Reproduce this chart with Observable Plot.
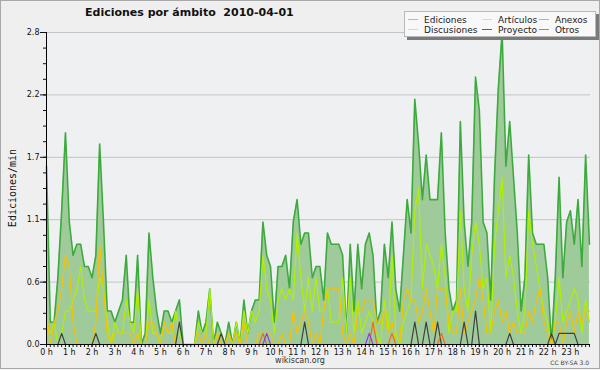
<!DOCTYPE html>
<html><head><meta charset="utf-8">
<script src="https://cdn.jsdelivr.net/npm/d3@7"></script>
<script src="https://cdn.jsdelivr.net/npm/@observablehq/plot@0.6"></script>
<style>
body{margin:0;background:#efefef;}
#wrap{position:relative;width:600px;height:370px;background:#efefef;font-family:"DejaVu Sans",sans-serif;overflow:hidden}
#chart{position:absolute;left:0;top:0}
.border{position:absolute;left:0;top:0;width:600px;height:369px;box-sizing:border-box;border:1px solid #a8a8a8;pointer-events:none}
.title{position:absolute;left:85px;top:6px;font-weight:bold;font-size:11px;color:#111;white-space:pre}
.ylab{position:absolute;left:12px;top:188px;transform:translate(-50%,-50%) rotate(-90deg);font-family:"DejaVu Sans Mono",monospace;font-size:10px;color:#111;white-space:nowrap}
.site{position:absolute;left:300px;top:356px;transform:translateX(-50%);font-size:8px;color:#333}
.cc{position:absolute;right:11px;top:359px;font-size:6px;color:#444}
.legend{position:absolute;left:404px;top:11px;width:190px;height:24px;background:#f8f8f8;border:1px solid #b8b8b8;box-shadow:3px 3px 0 #7a7a7a}
.li{position:absolute;font-size:9px;color:#222;white-space:nowrap;line-height:10px}
.li span{display:inline-block;width:10px;height:0;border-top:1px solid;vertical-align:middle;margin-right:6px;position:relative;top:-1px}
</style></head><body>
<div id="wrap">
<div id="chart"></div>
<div class="title">Ediciones por ámbito  2010-04-01</div>
<div class="ylab">Ediciones/min</div>
<div class="site">wikiscan.org</div>
<div class="cc">CC BY-SA 3.0</div>
<div class="legend" id="legend"></div>
<div class="border"></div>
</div>
<script>
// values per 10-minute slot (edits/min), 144 slots from 0:00 to 23:50
const ediciones = [1.6,0.2,0.2,0.6,1.2,1.9,1.1,0.8,0.9,0.9,0.7,0.7,0.6,0.8,1.8,1.1,0.3,0.3,0.2,0.3,0.4,0.8,0.2,0.2,
0.8,0,0.1,1.0,0.6,0.3,0.1,0.3,0.3,0.2,0.3,0.4,0,0,0,0,0.3,0.1,0.2,0.5,0,0.2,0.1,0,
0.2,0,0.2,0,0.4,0.1,0.3,0.4,0.4,1.1,0.8,0.7,0.2,0.7,0.7,0.8,0.5,1.1,1.3,0.9,1.0,1.0,0.6,0.7,
0.7,0.4,1.0,0.9,0.9,0.9,0.8,0.1,0.9,0.3,0.9,0.5,0.9,1.0,0.8,0.2,0.3,0.9,0.6,1.1,0.5,0.3,0.8,1.3,
1.0,2.2,1.8,1.3,1.7,1.3,1.3,1.3,1.9,1.0,0.5,0.3,0.4,2.0,1.1,0.7,1.1,2.4,2.1,1.1,1.0,0.4,1.5,2.3,
2.8,1.6,2.0,1.5,1.0,0.3,0.6,1.7,1.0,0.9,0.9,0.9,0.6,0,0.6,1.5,0.6,1.1,1.2,0.9,1.3,0.7,1.7,0.9];
const articulos = [0.2,0.1,0.2,0,0.1,0.3,0.3,0.4,0.5,0.7,0.4,0.3,0.3,0.3,0.6,0.5,0.2,0,0.2,0.1,0.1,0.4,0.2,0.1,
0.5,0,0,0.4,0.1,0.1,0,0.2,0.1,0.1,0.3,0.1,0,0,0,0,0.2,0.1,0.1,0.5,0,0.1,0.1,0,
0.1,0,0.2,0,0.3,0.1,0.3,0.2,0.3,0.8,0.5,0.4,0.1,0.4,0.5,0.4,0.5,0.4,1.0,0.6,0.3,0.6,0.3,0.6,
0.3,0.3,0.5,0.2,0.2,0.2,0.6,0.1,0.6,0.1,0.4,0.1,0.2,0.3,0.2,0.1,0,0.4,0.1,0.8,0.1,0,0.2,0.3,
0.4,1.2,1.4,0.5,0.9,0.8,0.7,0.5,0.9,0.6,0.1,0.3,0.3,1.2,0.5,0.3,0.8,1.1,0.9,0.5,0.6,0.1,0.9,1.2,
1.5,0.6,0.8,0.6,0.3,0.1,0.3,1.2,0.9,0.7,0.5,0.3,0.2,0,0.2,0.6,0.2,0.3,0.4,0.5,0.4,0.1,0.4,0.2];
const discusiones = [0.3,0,0.2,0.3,0.5,0.8,0.7,0.2,0,0,0,0,0,0.2,0.9,0.5,0.1,0,0.1,0.1,0.1,0.1,0.1,0,
0.1,0,0,0.2,0.2,0.1,0,0.2,0.1,0.2,0,0,0,0,0,0,0.1,0,0.1,0,0,0.1,0,0,
0.1,0,0.1,0,0.2,0,0,0,0.1,0.1,0.1,0.1,0,0,0.1,0,0,0.3,0.1,0.2,0.3,0.2,0,0.1,
0,0.3,0.5,0.5,0.5,0.5,0.1,0,0.1,0,0.3,0.3,0.4,0.4,0.4,0.2,0.2,0.3,0.1,0.2,0,0,0.4,0.5,
0.4,0.4,0.2,0.3,0.5,0.3,0.1,0.5,0.5,0.5,0.2,0.1,0.1,0.5,0.1,0.2,0.3,0.4,0.6,0.4,0.1,0.1,0.3,0.4,
0.2,0.3,0.1,0.2,0.1,0.1,0.1,0.3,0.2,0.4,0.5,0.2,0.1,0,0.2,0.2,0,0.2,0.3,0.1,0.3,0.2,0.3,0.3];
const proyecto = [0,0,0,0,0.1,0,0,0,0,0,0,0,0,0.1,0,0,0,0,0,0,0,0,0,0,
0,0,0,0,0,0,0,0,0,0,0,0.2,0,0,0,0,0,0,0,0,0,0,0.1,0,
0,0,0,0,0,0,0,0,0,0,0,0,0,0,0,0,0,0,0,0,0.2,0,0,0,
0,0,0,0,0,0,0,0,0,0,0,0,0,0,0,0,0,0,0,0,0,0,0,0,
0,0.2,0,0,0.2,0,0,0.2,0,0,0,0,0,0,0.2,0,0,0.3,0,0,0,0,0,0,
0,0,0.1,0,0,0,0,0,0,0,0,0,0,0.1,0,0.1,0.1,0.1,0.1,0.1,0,0,0,0];
const anexos = [0,0,0,0,0,0,0,0,0,0,0,0,0,0,0,0,0,0,0,0,0,0,0,0,
0,0,0,0,0,0,0,0,0,0,0,0,0,0,0,0,0,0,0,0,0,0,0,0,
0,0,0,0,0,0,0,0,0,0.1,0,0,0,0,0,0,0,0,0,0,0,0,0,0,
0,0,0,0,0,0,0,0,0,0,0,0,0,0,0.2,0,0,0,0,0.1,0,0,0,0,
0,0,0,0,0,0,0,0,0.1,0,0,0,0,0,0,0,0,0,0,0,0,0,0,0,
0,0,0,0,0,0,0,0,0,0,0,0,0,0,0,0,0,0,0,0,0,0,0,0];
const otros = [0,0,0,0,0,0,0,0,0,0,0,0,0,0,0,0,0,0,0,0,0,0,0,0,
0,0,0,0,0,0,0,0,0,0,0,0,0,0,0,0,0,0,0,0,0,0,0,0,
0,0,0,0,0,0,0,0,0,0,0.1,0,0,0,0,0,0,0,0,0,0,0,0,0,
0,0,0,0,0,0,0,0,0,0,0,0,0,0.1,0,0,0,0,0,0,0,0,0,0,
0,0,0,0,0,0,0,0,0,0,0,0,0,0,0,0,0,0,0,0,0,0,0,0,
0,0,0,0,0,0,0,0,0,0,0,0,0,0,0,0,0,0,0,0,0,0,0,0];

const hourTicks = [0,1,2,3,4,5,6,7,8,9,10,11,12,13,14,15,16,17,18,19,20,21,22,23];
const yMajor = [0, 0.56, 1.12, 1.68, 2.24, 2.8];
const seriesNames = ["Ediciones","Artículos","Anexos","Discusiones","Proyecto","Otros"];
const seriesColors = ["#3daa3d","#b0f000","#f26a1b","#f5c200","#404040","#8c3cf0"];
const legendColors = ["#8fd48f","#d2f26a","#f2a070","#f5d870","#606060","#a070f0"];

const rows = ediciones.map((v, i) => ({
  t: i / 6, ed: v, ar: articulos[i], di: discusiones[i], pr: proyecto[i], an: anexos[i], ot: otros[i]
}));
const minorX = d3.range(0, 144).map(i => i / 6);
const minorY = d3.range(0, 21).map(i => i * 0.14);

const chart = Plot.plot({
  width: 600, height: 370,
  marginLeft: 46, marginRight: 10, marginTop: 32, marginBottom: 26,
  style: {background: "transparent", fontFamily: "DejaVu Sans", fontSize: "8px", color: "#111"},
  x: {domain: [0, 23.88], label: null},
  y: {domain: [0, 2.8], label: null},
  marks: [
    Plot.frame({fill: "#eef0f2", stroke: null}),
    Plot.gridY(yMajor.slice(1), {stroke: "#c4c4c4", strokeOpacity: 1}),
    Plot.areaY(rows, {x: "t", y: "ed", fill: "#9fcb9a", curve: "linear"}),
    Plot.lineY(rows, {x: "t", y: "ed", stroke: seriesColors[0], strokeWidth: 1.6}),
    Plot.lineY(rows, {x: "t", y: "ar", stroke: seriesColors[1], strokeWidth: 1.2}),
    Plot.lineY(rows, {x: "t", y: "di", stroke: seriesColors[3], strokeWidth: 1.2}),
    Plot.lineY(rows, {x: "t", y: "pr", stroke: seriesColors[4], strokeWidth: 1.2}),
    Plot.lineY(rows, {x: "t", y: "an", stroke: seriesColors[2], strokeWidth: 1.2}),
    Plot.lineY(rows, {x: "t", y: "ot", stroke: seriesColors[5], strokeWidth: 1.2}),
    Plot.axisY({ticks: yMajor, tickSize: 6, tickPadding: 1, tickFormat: d => d.toFixed(1), label: null, fontSize: 8}),
    Plot.axisY({ticks: minorY, tickSize: 3, tickFormat: () => "", label: null}),
    Plot.axisX({ticks: hourTicks, tickSize: 3, tickPadding: 2, tickFormat: d => d + " h", label: null, fontSize: 8}),
    Plot.axisX({ticks: minorX, tickSize: 3, tickFormat: () => "", label: null}),
    Plot.ruleY([0], {stroke: "#000"}),
    Plot.ruleX([0], {stroke: "#000"})
  ]
});
document.getElementById("chart").appendChild(chart);

const legend = document.getElementById("legend");
const pos = [[3,3],[77,3],[134,3],[3,13],[77,13],[134,13]];
seriesNames.forEach((n, k) => {
  const d = document.createElement("div");
  d.className = "li";
  d.style.left = pos[k][0] + "px";
  d.style.top = pos[k][1] + "px";
  d.innerHTML = `<span style="border-color:${legendColors[k]}"></span>${n}`;
  legend.appendChild(d);
});
</script>
</body></html>
